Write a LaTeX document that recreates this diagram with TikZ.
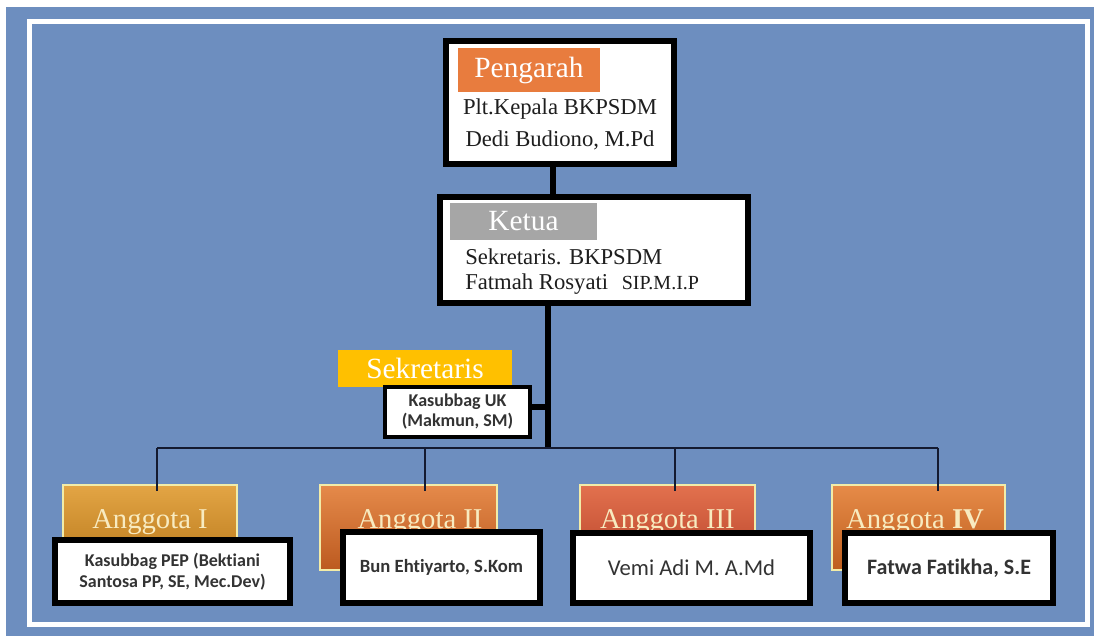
\documentclass[tikz,border=0pt]{standalone}
\usepackage{fontspec}
\setmainfont{Liberation Serif}
\newfontfamily\sansf[Ligatures=NoCommon]{Carlito}
\definecolor{bg}{HTML}{6D8EBF}
\definecolor{pengor}{HTML}{E87C3E}
\definecolor{ketgray}{HTML}{A6A6A6}
\definecolor{sekgold}{HTML}{FFC000}
\definecolor{cream}{HTML}{F8EBC0}
\definecolor{glow}{HTML}{F2ECA8}
\definecolor{navy}{HTML}{141A30}
\definecolor{txt}{HTML}{1E1E1E}
\definecolor{stxt}{HTML}{333333}
\definecolor{aIt}{HTML}{E3A545}
\definecolor{aIb}{HTML}{B8781A}
\definecolor{aIIt}{HTML}{E58A4A}
\definecolor{aIIb}{HTML}{BC5A20}
\definecolor{aIIIt}{HTML}{E2714E}
\definecolor{aIIIb}{HTML}{B8432A}
\definecolor{aIVt}{HTML}{E68B48}
\definecolor{aIVb}{HTML}{BE5E1E}
\tikzset{
  bigbox/.style={draw=black, fill=white, line width=4.5pt, inner sep=0pt},
  smallbox/.style={draw=black, fill=white, line width=3.5pt, inner sep=0pt},
  lab/.style={inner sep=0pt, text=white, font=\fontsize{22}{24}\selectfont},
  body/.style={inner sep=0pt, text=txt, font=\fontsize{17}{20}\selectfont},
  sbody/.style={inner sep=0pt, text=stxt, align=center},
  anggbox/.style={draw=glow, line width=1.5pt, inner sep=0pt, minimum height=63.75pt},
  anggtext/.style={inner sep=0pt, text=cream, font=\fontsize{21.5}{24}\selectfont},
  thick connector/.style={draw=black, line width=4pt},
  thin connector/.style={draw=navy, line width=1.5pt}
}
\begin{document}
\begin{tikzpicture}[x=0.75pt,y=-0.75pt]
\useasboundingbox (0,0) rectangle (1094,636);
\fill[white] (0,0) rectangle (1094,636);
\fill[bg] (6,7) rectangle (1094,636);
\draw[white, line width=3.75pt] (29,21) rectangle (1087,624);

% Pengarah
\node[bigbox, minimum width=171pt, minimum height=92.25pt] (peng) at (560,102.5) {};
\node[lab, fill=pengor, minimum width=106.5pt, minimum height=33pt] (penglab) at (529,70) {Pengarah};
\node[body] (p1) at (560,109) {Plt.Kepala BKPSDM};
\node[body] (p2) at (560,140) {Dedi Budiono, M.Pd};

% Ketua
\node[bigbox, minimum width=231pt, minimum height=79.5pt] (ket) at (594,250) {};
\node[lab, fill=ketgray, minimum width=110pt, minimum height=27.75pt] (ketlab) at (523.5,221.5) {Ketua};
\node[body, anchor=west] (k1) at (465,257) {Sekretaris. BKPSDM};
\node[body, anchor=west] (k2) at (465,284) {Fatmah Rosyati\hspace{0.6em}{\fontsize{15}{17}\selectfont SIP.M.I.P}};

\coordinate (pc) at (553,164);
\draw[thick connector] (pc) -- (pc |- ket.north);

% Sekretaris
\node[lab, fill=sekgold, minimum width=130.5pt, minimum height=27.75pt] (seklab) at (425,368.5) {Sekretaris};
\node[smallbox, minimum width=108.75pt, minimum height=37.5pt, sbody, font=\sansf\bfseries\fontsize{13.5}{15}\selectfont] (sek) at (457.5,412) {Kasubbag UK\\(Makmun, SM)};

% main connectors
\coordinate (kb) at (548,303);
\coordinate (hub) at (548,448);
\coordinate (sj) at (548,407);
\draw[thick connector] (kb) -- (hub);
\draw[thick connector] (sek.east |- sj) -- (sj);

\coordinate (d1) at (157,448);
\coordinate (d2) at (425,448);
\coordinate (d3) at (675,448);
\coordinate (d4) at (938,448);
\draw[thin connector] (d1) -- (d4);

% Anggota labels
\node[anggbox, minimum width=130.5pt, top color=aIt, bottom color=aIb] (a1) at (150,527.5) {};
\node[anggbox, minimum width=132.75pt, top color=aIIt, bottom color=aIIb] (a2) at (408.5,527.5) {};
\node[anggbox, minimum width=131.25pt, top color=aIIIt, bottom color=aIIIb] (a3) at (667.5,527.5) {};
\node[anggbox, minimum width=129.75pt, top color=aIVt, bottom color=aIVb] (a4) at (918.5,527.5) {};

\node[anggtext] (a1t) at (150,522) {Anggota I};
\node[anggtext] (a2t) at (420,522) {Anggota II};
\node[anggtext] (a3t) at (667.5,522) {Anggota III};
\node[anggtext] (a4t) at (915,522) {Anggota \textbf{IV}};

\draw[thin connector] (d1) -- ([yshift=-5pt]d1 |- a1.north);
\draw[thin connector] (d2) -- ([yshift=-5pt]d2 |- a2.north);
\draw[thin connector] (d3) -- ([yshift=-5pt]d3 |- a3.north);
\draw[thin connector] (d4) -- ([yshift=-5pt]d4 |- a4.north);

% member boxes
\node[smallbox, line width=4pt, minimum width=176.25pt, minimum height=47.25pt, sbody, font=\sansf\bfseries\fontsize{13.5}{16}\selectfont] (m1) at (172.5,571.5) {Kasubbag PEP (Bektiani\\Santosa PP, SE, Mec.Dev)};
\node[smallbox, line width=4pt, minimum width=147.75pt, minimum height=53.25pt, sbody, font=\sansf\bfseries\fontsize{14}{16}\selectfont] (m2) at (441.5,567.5) {\raisebox{-4pt}{Bun Ehtiyarto, S.Kom}};
\node[smallbox, line width=4pt, minimum width=177.75pt, minimum height=52.5pt, sbody, font=\sansf\fontsize{17}{20}\selectfont] (m3) at (691.5,568) {Vemi Adi M. A.Md};
\node[smallbox, line width=4pt, minimum width=156pt, minimum height=52.5pt, sbody, font=\sansf\bfseries\fontsize{16.5}{19}\selectfont] (m4) at (949,568) {Fatwa Fatikha, S.E};
\end{tikzpicture}
\end{document}
